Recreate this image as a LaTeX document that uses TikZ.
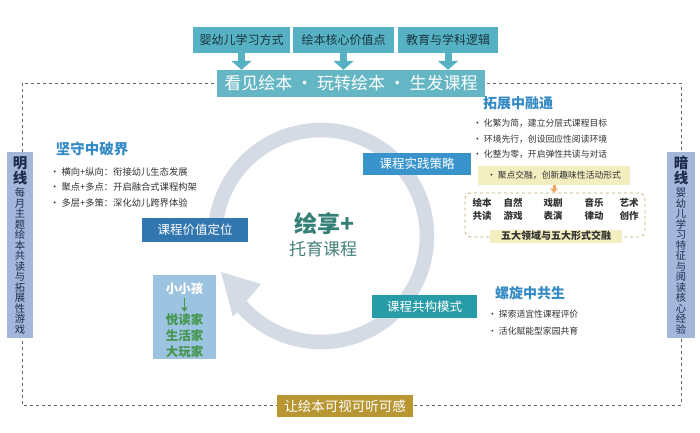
\documentclass[tikz,border=0pt]{standalone}
\usepackage{fontspec}
\setmainfont{Noto Sans CJK SC}
\usepackage{xcolor}
\usepackage{tikz}
\usetikzlibrary{arrows.meta}

\definecolor{topteal}{RGB}{86,178,194}
\definecolor{topink}{RGB}{24,52,66}
\definecolor{bannerteal}{RGB}{100,182,196}
\definecolor{ringgray}{RGB}{212,219,229}
\definecolor{titleblue}{RGB}{52,138,196}
\definecolor{valueblue}{RGB}{50,118,176}
\definecolor{practiceblue}{RGB}{58,148,204}
\definecolor{coteal}{RGB}{40,156,166}
\definecolor{bodygray}{RGB}{50,50,50}
\definecolor{lineblue}{RGB}{164,182,218}
\definecolor{lineink}{RGB}{30,44,80}
\definecolor{gold}{RGB}{184,150,50}
\definecolor{paleyellow}{RGB}{243,238,192}
\definecolor{dashtan}{RGB}{196,172,110}
\definecolor{kidblue}{RGB}{156,196,224}
\definecolor{kidgreen}{RGB}{70,150,80}
\definecolor{centerteal}{RGB}{52,128,118}
\definecolor{softorange}{RGB}{240,166,96}

\tikzset{
  topbox/.style={fill=topteal, text=topink, font=\fontsize{12}{14}\selectfont,
    minimum height=26pt, inner sep=0pt},
  downarrow/.style={topteal, line width=7pt, -{Triangle[width=20pt,length=9pt]}},
  stagebox/.style={text=white, font=\fontsize{12.5}{14}\selectfont,
    minimum height=23pt, inner sep=0pt},
  headline/.style={text=titleblue, font=\bfseries\fontsize{14}{16}\selectfont},
  bullet/.style={text=bodygray, anchor=west, inner sep=0pt, font=\fontsize{9.3}{11}\selectfont},
  sidebox/.style={fill=lineblue, text=lineink, minimum height=186pt, inner sep=0pt,
    align=center, anchor=north, font=\fontsize{10.3}{10.5}\selectfont},
  formlabel/.style={text=bodygray, align=center, font=\bfseries\fontsize{9.5}{13}\selectfont},
  kidline/.style={text=kidgreen, font=\bfseries\fontsize{12.5}{14}\selectfont, inner sep=0pt},
}

\begin{document}
\begin{tikzpicture}[x=1pt,y=-1pt]
\useasboundingbox[fill=white] (0,0) rectangle (700,432);

% outer dashed frame
\draw[dashed, gray!80!black, line width=0.8pt] (22,83) rectangle (681,405);

% top sources
\node[topbox, minimum width=97pt]  (learn) at (241.5,40) {婴幼儿学习方式};
\node[topbox, minimum width=101pt] (core)  at (343.5,40) {绘本核心价值点};
\node[topbox, minimum width=100pt] (logic) at (448,40)   {教育与学科逻辑};
\node[fill=bannerteal, text=white, minimum width=268pt, minimum height=27pt, inner sep=0pt,
      font=\fontsize{17}{19}\selectfont] (banner) at (351,83.5) {看见绘本 · 玩转绘本 · 生发课程};
\draw[downarrow] (learn.south) -- (learn.south |- banner.north);
\draw[downarrow] (core.south)  -- (core.south |- banner.north);
\draw[downarrow] (logic.south) -- (logic.south |- banner.north);

% side lines
\node[sidebox, minimum width=26pt] (ming) at (20,152)
  {\bfseries\fontsize{14.5}{17}\selectfont 明\\\bfseries\fontsize{14.5}{17}\selectfont 线\\[3pt]
   每\\月\\主\\题\\绘\\本\\共\\读\\与\\拓\\展\\性\\游\\戏};
\node[sidebox, minimum width=28pt] (an) at (681,152)
  {\bfseries\fontsize{14.5}{17}\selectfont 暗\\\bfseries\fontsize{14.5}{17}\selectfont 线\\[3pt]
   婴\\幼\\儿\\学\\习\\特\\征\\与\\阅\\读\\核\\心\\经\\验};

% bottom
\node[fill=gold, text=white, minimum width=136pt, minimum height=22pt, inner sep=0pt,
      font=\fontsize{13.5}{15}\selectfont] (sense) at (345,406) {让绘本可视可听可感};

% ring
\draw[ringgray, line width=14.5pt] plot[domain=188:500, samples=120]
  ({321+106*cos(\x)},{236+106*sin(\x)});
\fill[ringgray] (221,272) -- (261,284) -- (233,317) -- cycle;
\node[text=centerteal, font=\bfseries\fontsize{23}{25}\selectfont] (huixiang) at (324,224) {绘享+};
\node[text=centerteal!80!gray, font=\fontsize{17}{19}\selectfont] (tuoyu) at (323,249) {托育课程};

% stages on the ring
\node[stagebox, fill=valueblue, minimum width=106pt, minimum height=24pt] (value) at (195,230) {课程价值定位};
\node[stagebox, fill=practiceblue, minimum width=108pt, minimum height=22pt] (practice) at (417,164) {课程实践策略};
\node[stagebox, fill=coteal, minimum width=105pt] (cobuild) at (424.5,306.5) {课程共构模式};

% left block
\node[headline, font=\bfseries\fontsize{14.5}{16}\selectfont] (keep) at (92,149) {坚守中破界};
\node[bullet] (k1) at (50,172) {· 横向+纵向：衔接幼儿生态发展};
\node[bullet] (k2) at (50,187) {· 聚点+多点：开启融合式课程构架};
\node[bullet] (k3) at (50,203) {· 多层+多策：深化幼儿跨界体验};

% right upper block
\node[headline] (expand) at (518,103) {拓展中融通};
\node[bullet, font=\fontsize{8.8}{10}\selectfont] (e1) at (473,123) {· 化繁为简，建立分层式课程目标};
\node[bullet, font=\fontsize{8.8}{10}\selectfont] (e2) at (473,139) {· 环境先行，创设回应性阅读环境};
\node[bullet, font=\fontsize{8.8}{10}\selectfont] (e3) at (473,154) {· 化整为零，开启弹性共读与对话};
\node[fill=paleyellow, text=bodygray, minimum width=152pt, minimum height=19pt, inner sep=0pt,
      font=\fontsize{8.8}{10}\selectfont] (fusion) at (554,175.5) {· 聚点交融，创新趣味性活动形式};
\node[draw=dashtan, dashed, rounded corners=6pt, line width=0.8pt,
      minimum width=180pt, minimum height=44pt] (forms) at (555,215) {};
\draw[softorange, line width=3pt, -{Triangle[width=8pt,length=4pt]}] (fusion.south) -- (fusion.south |- forms.north);
\node[formlabel] (f1) at (482,209.5) {绘本\\共读};
\node[formlabel] (f2) at (513,209.5) {自然\\游戏};
\node[formlabel] (f3) at (553,209.5) {戏剧\\表演};
\node[formlabel] (f4) at (594,209.5) {音乐\\律动};
\node[formlabel] (f5) at (629,209.5) {艺术\\创作};
\node[fill=paleyellow, text=bodygray, minimum width=132pt, minimum height=13pt, inner sep=0pt,
      font=\bfseries\fontsize{10}{11}\selectfont] (fivefold) at (556,236) {五大领域与五大形式交融};

% right lower block
\node[headline] (spiral) at (530,293) {螺旋中共生};
\node[bullet, font=\fontsize{8.8}{10}\selectfont] (s1) at (488,314) {· 探索适宜性课程评价};
\node[bullet, font=\fontsize{8.8}{10}\selectfont] (s2) at (488,331) {· 活化赋能型家园共育};

% little child box
\node[fill=kidblue, minimum width=63pt, minimum height=84pt, inner sep=0pt] (kidbox) at (184.5,317) {};
\node[kidline, text=white] (kid) at (184.5,289) {小小孩};
\node[kidline] (reader) at (184.5,320) {悦读家};
\node[kidline] (liver) at (184.5,336) {生活家};
\node[kidline] (player) at (184.5,352) {大玩家};
\draw[kidgreen, line width=1.8pt, -{Triangle[width=6pt,length=4pt]}, shorten <=3pt, shorten >=2pt]
  (kid.south) -- (reader.north);
\end{tikzpicture}
\end{document}
